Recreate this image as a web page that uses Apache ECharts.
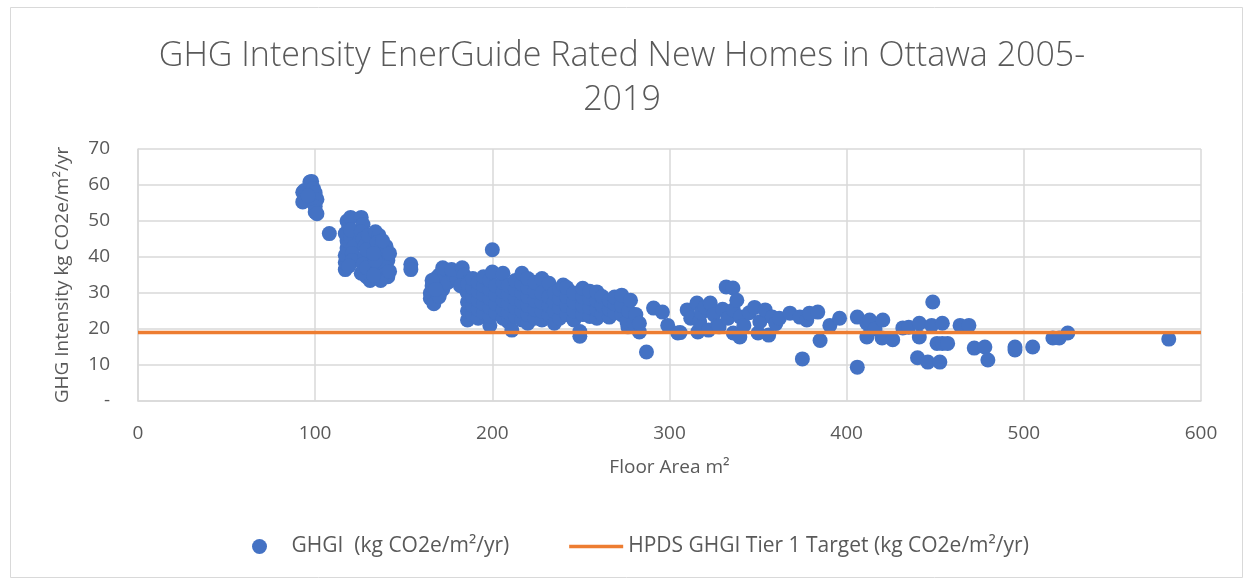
<!DOCTYPE html>
<html>
<head>
<meta charset="utf-8">
<script src="https://cdn.jsdelivr.net/npm/echarts@6/dist/echarts.min.js"></script>
<style>
html,body{margin:0;padding:0;background:#fff;}
#chart{width:1244px;height:578px;}
</style>
</head>
<body>
<div id="chart"></div>
<script>
// ---- Data ----
var chartTitle = 'GHG Intensity EnerGuide Rated New Homes in Ottawa 2005-\n2019';
var xAxisName = 'Floor Area m\u00B2';
var yAxisName = 'GHG Intensity kg CO2e/m\u00B2/yr';
var seriesNames = ['GHGI  (kg CO2e/m\u00B2/yr)', 'HPDS GHGI Tier 1 Target (kg CO2e/m\u00B2/yr)'];
var xTicks = [0, 100, 200, 300, 400, 500, 600];
var yTicks = [0, 10, 20, 30, 40, 50, 60, 70];
var yZeroLabel = '-';
var targetValue = 19;
var targetRange = [0, 600];

// [floor area m2, GHGI kg CO2e/m2/yr]
var ghgiPoints = [
  [93,55.3],[93,58],[94,58.5],[97,60.8],[98,61],[99,59],[100,57.8],[101,56],[100,54],[100,52.5],[101,52],[96,57],
  [108,46.5],
  [117,36.5],[117,38.5],[117,40.5],[118,42.5],[118,44.5],[117,46.5],[119,48.5],[118,50],[120,51],[120,45.5],[122,43],[121,41],[121,39],[120,47.5],[119,37.5],
  [126,51],[127,49],[126,47],[127,45],[128,43],[128,40],[127,38],[128,36],[129,34.5],[131,33.5],[126,35.5],[129,42],[130,46],[129,37],
  [134,47],[136,46],[135,44],[137,42],[138,40],[136,38],[135,36],[140,43],[141,39],[140,37],[139,35],[142,41],[141,34.5],[137,33.5],[133,35],[134,39],[133,41],[138,44.5],[142,36],
  [154,38],[154,36.5],
  [165,30],[165,28.5],[167,27],[166,32],[168,34],[170,35],[166,33.5],[172,31],[172,37],[175,33],[178,35],[180,34],[177,36.5],[183,37],[184,35],[186,33],[185,31],[182,32],[170,29],[168,31],
  [186,22.5],[186,25],[186,27.5],[186,30],[186,32.5],
  [189,24],[189,26.5],[189,29],[189,31.5],[189,34],
  [192,23],[192,25.5],[192,28],[192,30.5],[192,33],
  [195,24.5],[195,27],[195,29.5],[195,32],[195,34.5],
  [198.6,21],[198.6,23.5],[198.6,26],[198.6,28.5],[198.6,31],[198.6,33.5],
  [200,42],[200,35.8],
  [202,24.5],[202,27],[202,29.5],[202,32],
  [206,23],[206,25.5],[206,28],[206,30.5],[206,33],[206,35.5],
  [209,22],[209,24.5],[209,27],[209,29.5],[209,32],
  [211,19.7],
  [213,23.5],[213,26],[213,28.5],[213,31],[213,33.5],
  [216.7,22.5],[216.7,25],[216.7,27.5],[216.7,30],[216.7,32.5],[216.7,35.5],
  [220,21.6],[220,24],[220,26.5],[220,29],[220,31.5],[220,34],
  [224,23],[224,25.5],[224,28],[224,30.5],[224,33],
  [228,22.5],[228,25],[228,27.5],[228,30],[228,34],
  [232,24],[232,26.5],[232,29],[232,32.7],
  [235,21.6],[235,25],[235,27.5],[235,30],
  [238,23],[238,26],[238,28.5],[238,31],
  [240,32.2],
  [242,24],[242,26.5],[242,29],[242,31.5],
  [246,22.5],[246,25],[246,27.5],[246,30],
  [249.4,19.3],[249.4,18],
  [251,24],[251,26.5],[251,29],[251,31.3],
  [255,23.5],[255,26],[255,28.5],[255,30.5],
  [259,23],[259,25.5],[259,28],[259,30.3],
  [262,24],[262,26.5],[262,29],
  [266,23.3],[266,25.5],[266,28],
  [269,24.5],[269,27],[269,28.9],
  [273,24],[273,26.5],[273,29.4],
  [276.5,20.6],[276,22],[277,25],[278,28],[280,21.6],[281,24],[283,19.2],[283,21.6],[287,13.6],[291,25.8],[296,24.7],[299,21],[304.7,18.9],
  [306,19],[310,25.3],[312,23],[315.5,27.2],[316,19.2],[317,22],[318,24.5],[320,26],[322,19.7],[323,27.2],[325,24],[327,21],[328,20.6],[330,25.5],[332,31.7],[333,23],[335.8,31.4],[336,25.3],[336,18.9],[338,28],[339.7,17.8],[340,23.3],[342,21],[345,24.5],[348,26],[350,18.9],[351,22],[354,25.3],[356,18.3],[358,23.3],[360,21.5],[362,23],
  [368,24.4],[373.6,23.3],[375,11.7],[377.5,22.5],[379,24.4],[383.7,24.7],[385,16.8],[390.5,21],[396,23],[406,23.3],[406,9.4],[411.4,21.6],[411.4,17.8],[413,22.5],[416,20],[420.4,22.5],[420,17.5],[426,17],[431.7,20.3],[435,20.5],[440,12],[441,21.6],[441,17.8],[445.8,10.8],[448.6,27.5],[448,21],[451,16],[452.6,10.8],[454,21.6],[454,16],[457,16],[464,21],[469,21],[472,14.7],[478,15],[479.7,11.4],[495,15],[495,14.2],[505,15],[516.4,17.5],[520,17.5],[524.8,18.9],[581.8,17.2]
];

var targetLine = [[targetRange[0], targetValue], [targetRange[1], targetValue]];

var textColor = '#595959';
var gridColor = '#d9d9d9';
var fontFam = '"Open Sans", "Liberation Sans", sans-serif';

var chart = echarts.init(document.getElementById('chart'), null, {renderer: 'canvas'});
chart.setOption({
  backgroundColor: '#ffffff',
  animation: false,
  textStyle: {fontFamily: fontFam},
  graphic: [{
    type: 'rect', left: 8, top: 5,
    shape: {width: 1232, height: 570},
    style: {fill: 'none', stroke: gridColor, lineWidth: 1},
    silent: true, z: -1
  }],
  title: {
    text: chartTitle,
    left: 'center',
    top: 29,
    textStyle: {fontFamily: fontFam, fontSize: 34, fontWeight: 300, color: textColor, lineHeight: 44}
  },
  grid: {left: 138, right: 43, top: 149, bottom: 177, containLabel: false},
  legend: {
    top: 531,
    left: 247,
    itemGap: 60,
    itemWidth: 54,
    itemHeight: 15,
    symbolKeepAspect: true,
    textStyle: {fontFamily: fontFam, fontSize: 21, color: textColor},
    data: [
      {name: seriesNames[0], icon: 'circle'},
      {name: seriesNames[1], icon: 'path://M0,0H54V3.5H0Z'}
    ]
  },
  xAxis: {
    type: 'value',
    min: xTicks[0], max: xTicks[xTicks.length - 1], interval: xTicks[1] - xTicks[0],
    name: xAxisName, nameLocation: 'middle', nameGap: 57,
    nameTextStyle: {fontFamily: fontFam, fontSize: 19, color: textColor},
    axisLine: {show: true, lineStyle: {color: gridColor, width: 1.5}},
    axisTick: {show: false},
    axisLabel: {fontFamily: fontFam, fontSize: 19, color: textColor, margin: 23},
    splitLine: {show: true, lineStyle: {color: gridColor, width: 1.5}}
  },
  yAxis: {
    type: 'value',
    min: yTicks[0], max: yTicks[yTicks.length - 1], interval: yTicks[1] - yTicks[0],
    name: yAxisName, nameLocation: 'middle', nameGap: 66, nameRotate: 90,
    nameTextStyle: {fontFamily: fontFam, fontSize: 19, color: textColor},
    axisLine: {show: true, lineStyle: {color: gridColor, width: 1.5}},
    axisTick: {show: false},
    axisLabel: {
      fontFamily: fontFam, fontSize: 19, color: textColor, margin: 28,
      formatter: function (v) { return v === 0 ? yZeroLabel : String(v); }
    },
    splitLine: {show: true, lineStyle: {color: gridColor, width: 1.5}}
  },
  series: [
    {
      name: seriesNames[0],
      type: 'scatter',
      data: ghgiPoints,
      symbol: 'circle',
      symbolSize: 15,
      itemStyle: {color: '#4472C4', opacity: 1},
      z: 2
    },
    {
      name: seriesNames[1],
      type: 'line',
      data: targetLine,
      symbol: 'none',
      lineStyle: {color: '#ED7D31', width: 3.5},
      itemStyle: {color: '#ED7D31'},
      z: 3
    }
  ]
});
</script>
</body>
</html>
